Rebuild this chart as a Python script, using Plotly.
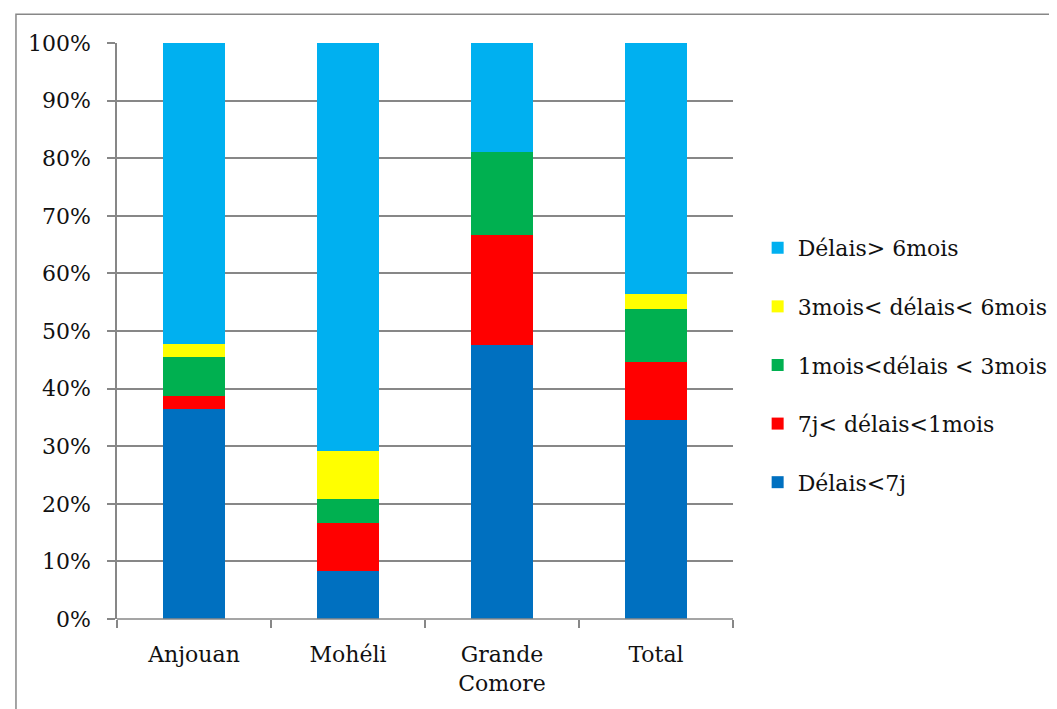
import plotly.graph_objects as go

regions = ["Anjouan", "Mohéli", "Grande<br>Comore", "Total"]

# parts of each bar, in percent
delais_7j = [36.4, 8.3, 47.6, 34.6]
delais_7j_1mois = [2.3, 8.3, 19.1, 10.1]
delais_1_3mois = [6.8, 4.2, 14.3, 9.1]
delais_3_6mois = [2.3, 8.4, 0.0, 2.7]
delais_6mois = [52.2, 70.8, 19.0, 43.5]

series = [
    ("Délais<7j", delais_7j, "#0070C0"),
    ("7j< délais<1mois", delais_7j_1mois, "#FF0000"),
    ("1mois<délais < 3mois", delais_1_3mois, "#00B050"),
    ("3mois< délais< 6mois", delais_3_6mois, "#FFFF00"),
    ("Délais> 6mois", delais_6mois, "#00B0F0"),
]

font = "DejaVu Serif"
grey = "#878787"

fig = go.Figure()
for i, (name, values, color) in enumerate(series):
    fig.add_trace(go.Bar(
        x=regions,
        y=values,
        name=name,
        legendgroup=str(i),
        legendrank=100 - i,
        marker=dict(color=color, line=dict(width=0)),
        hoverinfo="name+y",
    ))

# the page body adds 8px of margin, so the figure is a bit smaller than the window
fig.update_layout(
    width=1049,
    height=701,
    barmode="stack",
    bargap=0.6,
    plot_bgcolor="white",
    paper_bgcolor="white",
    margin=dict(l=109, r=324, t=35, b=90, autoexpand=False),
    font=dict(family=font, size=22, color="#111111"),
    showlegend=True,
    legend=dict(
        traceorder="grouped",
        tracegroupgap=27,
        x=1.04,
        xanchor="left",
        y=0.441,
        yanchor="middle",
        font=dict(family=font, size=22, color="#111111"),
        bgcolor="rgba(0,0,0,0)",
    ),
    xaxis=dict(
        showgrid=False,
        showline=False,
        ticks="outside",
        tickson="boundaries",
        ticklen=8,
        tickcolor=grey,
        tickwidth=1.5,
        ticklabelstandoff=20,
    ),
    yaxis=dict(
        range=[0, 100],
        dtick=10,
        ticksuffix="%",
        showgrid=True,
        gridcolor=grey,
        gridwidth=1.5,
        showline=True,
        linecolor=grey,
        linewidth=1.5,
        ticks="outside",
        ticklen=8,
        tickcolor=grey,
        tickwidth=1.5,
        zeroline=False,
        ticklabelstandoff=12,
    ),
    shapes=[
        dict(
            type="rect",
            xref="paper",
            yref="paper",
            x0=-0.164,
            x1=1.6,
            y0=-0.2,
            y1=1.05,
            line=dict(color=grey, width=1.5),
            layer="below",
        ),
        dict(
            type="line",
            xref="paper",
            yref="paper",
            x0=0,
            x1=1,
            y0=0,
            y1=0,
            line=dict(color=grey, width=1.5),
        ),
    ],
)

fig.write_html("out.html")
